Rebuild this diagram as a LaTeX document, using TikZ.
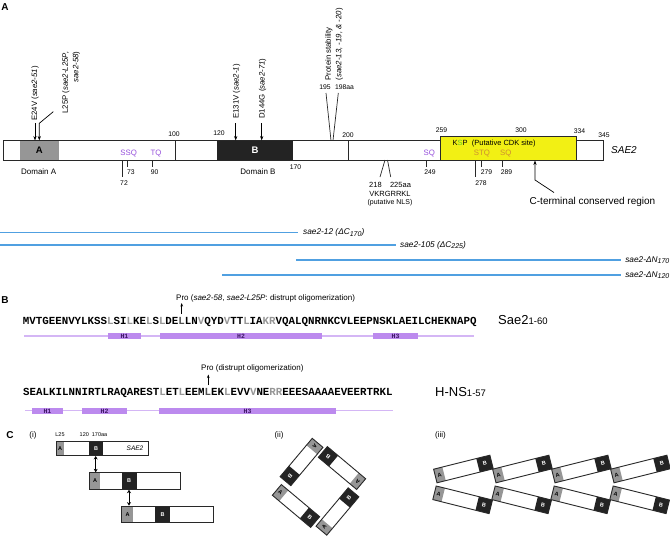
\documentclass[tikz,border=0pt]{standalone}
\usepackage{fontspec}
\setmainfont{Liberation Sans}
\newfontfamily\seqfont{Liberation Mono}
\usetikzlibrary{arrows.meta}
\definecolor{purp}{RGB}{150,80,220}
\definecolor{orng}{RGB}{205,140,50}
\definecolor{yel}{RGB}{242,240,20}
\definecolor{grn}{RGB}{95,205,40}
\definecolor{agray}{RGB}{150,150,150}
\definecolor{bblk}{RGB}{35,35,35}
\definecolor{outl}{RGB}{40,40,40}
\definecolor{bluel}{RGB}{80,160,225}
\definecolor{hline}{RGB}{212,182,245}
\definecolor{hbox}{RGB}{188,138,238}
\definecolor{htext}{RGB}{60,20,100}
\definecolor{seqg}{RGB}{150,150,150}
\definecolor{seqd}{RGB}{80,80,80}
\newcommand\gr[1]{{\color{seqg}#1}}
\newcommand\dk[1]{{\color{seqd}#1}}
\newcommand\lowsub[1]{\raisebox{-1.6pt}{\fontsize{7}{8}\selectfont #1}}
\tikzset{
  every node/.style={inner sep=0pt},
  sec/.style={font=\fontsize{10}{12}\selectfont\bfseries},
  num/.style={font=\fontsize{6.8}{8}\selectfont},
  lbl/.style={font=\fontsize{7.5}{9}\selectfont},
  rlbl/.style={rotate=90, font=\fontsize{7.8}{10.5}\selectfont},
  motif/.style={font=\fontsize{7.8}{9}\selectfont},
  tick/.style={draw=outl, line width=0.7pt},
  ltick/.style={draw=outl, line width=1.3pt},
  mut/.style={draw=black, line width=0.7pt, -{Stealth[length=4.5pt,width=3.2pt]}},
  proarr/.style={draw=black, line width=0.6pt, -{Stealth[length=3.5pt,width=2.6pt]}},
  dbl/.style={draw=black, line width=1pt, {Stealth[length=3.5pt,width=4pt]}-{Stealth[length=3.5pt,width=4pt]}},
  seq/.style={anchor=base west, font=\fontsize{10.8}{12}\selectfont\seqfont\bfseries},
  helixln/.style={draw=hline, line width=1.3pt},
  helix/.style={fill=hbox},
  htxt/.style={font=\fontsize{6.5}{6.5}\selectfont\seqfont\bfseries, text=htext},
  bluel/.style={draw=bluel, line width=1.6pt},
  mlbl/.style={font=\fontsize{8.3}{10}\selectfont\itshape},
  tiny/.style={font=\fontsize{5.5}{6}\selectfont\bfseries},
  small/.style={font=\fontsize{5.5}{6}\selectfont},
  bigl/.style={anchor=base west, font=\fontsize{13}{15}\selectfont},
  pics/sbar/.style={code={
     \fill[white] (0,-7) rectangle (#1,7);
     \fill[agray] (0,-7) rectangle (9,7);
     \fill[bblk] ({#1-14},-7) rectangle (#1,7);
     \draw[outl, line width=0.9pt] (0,-7) rectangle (#1,7);
     \node[tiny, transform shape] (-a) at (4.5,0) {A};
     \node[tiny, transform shape, text=white] (-b) at ({#1-7},0) {B};
  }},
}
\begin{document}
\begin{tikzpicture}[x=1pt,y=-1pt]
\useasboundingbox (0,0) rectangle (670,536);
\fill[white] (0,0) rectangle (670,536);
% ---------------- A ----------------
\node[sec] (secA) at (5,7) {A};
\fill[white] (3,140.5) rectangle (603,160);
\fill[agray] (19.5,141) rectangle (59,159.5);
\fill[bblk] (216.7,141) rectangle (293.3,159.5);
\draw[outl, line width=0.9pt] (3,140.5) rectangle (603,160);
\draw[outl, line width=0.9pt] (175,140.5) -- (175,160) (348.5,140.5) -- (348.5,160);
\draw[outl, line width=1pt, fill=yel] (440.7,136) rectangle (576.7,160);
\node[font=\fontsize{9.5}{10}\selectfont\bfseries] (dA) at (39.2,150.5) {A};
\node[font=\fontsize{9.5}{10}\selectfont\bfseries, text=white] (dB) at (255,150.5) {B};
\node[anchor=west, font=\fontsize{10}{12}\selectfont\itshape] (sae2) at (611,150) {SAE2};
% numbers above
\node[num] (n100) at (174,134) {100};
\node[num] (n120) at (219,133) {120};
\node[num] (n200) at (348,135.5) {200};
\node[num] (n259) at (441.5,130) {259};
\node[num] (n300) at (521,130) {300};
\node[num] (n334) at (579.5,131) {334};
\node[num] (n345) at (604,135.5) {345};
\node[num] (n170) at (295.5,167) {170};
% motifs
\node[motif, text=purp] (ssq) at (128.7,154) {SSQ};
\node[motif, text=purp] (tq) at (156,154) {TQ};
\node[motif, text=purp] (sq1) at (429.3,154) {SQ};
\node[motif, text=orng] (stq) at (482,154) {STQ};
\node[motif, text=orng] (sq2) at (505.8,154) {SQ};
\node[anchor=west, font=\fontsize{7.5}{9}\selectfont] (ksp) at (452.5,143.3) {K\textcolor{grn}{S}P\ \ (Putative CDK site)};
% ticks
\draw[tick] (127.7,160) -- (127.7,166.5);
\node[num] (n73) at (130.8,172) {73};
\draw[tick] (152.7,160) -- (152.7,166.5);
\node[num] (n90) at (154.7,172) {90};
\draw[ltick] (122.7,160) -- (122.7,177);
\node[num] (n72) at (124,183) {72};
\draw[tick] (426,160) -- (426,166.5);
\node[num] (n249) at (430,172.5) {249};
\draw[ltick] (475.7,160) -- (475.7,177);
\node[num] (n278) at (481,183) {278};
\draw[tick] (481.7,160) -- (481.7,166.5);
\node[num] (n279) at (486.5,172) {279};
\draw[tick] (502,160) -- (502,166.5);
\node[num] (n289) at (506.5,172) {289};
\node[font=\fontsize{8}{9}\selectfont] (domA) at (38.7,172) {Domain A};
\node[font=\fontsize{8}{9}\selectfont] (domB) at (258,172) {Domain B};
% NLS
\draw[tick] (385,160) -- (380,177);
\draw[tick] (387.5,160) -- (390.7,177);
\node[lbl] (n218) at (375.5,185) {218};
\node[lbl] (n225) at (400.5,185) {225aa};
\node[lbl] (vkr) at (390,194) {VKRGRRKL};
\node[font=\fontsize{7}{8}\selectfont] (nls) at (390,203) {(putative NLS)};
% C-terminal
\node[font=\fontsize{10}{12}\selectfont] (cterm) at (592.5,201.7) {C-terminal conserved region};
\coordinate (ctip) at (535,160.5);
\draw[mut] (554,192.5) -- (535,180) -- (ctip);
% mutations
\node[rlbl, anchor=west] (e24v) at (35,121) {E24V (\textit{sae2-51})};
\node[rlbl, anchor=east, align=right] (l25p) at (71,51.5) {L25P (\textit{sae2-L25P,}\\\textit{sae2-58})};
\node[rlbl, anchor=west] (e131v) at (236.5,119) {E131V (\textit{sae2-1})};
\node[rlbl, anchor=west] (d144g) at (262.5,119) {D144G (\textit{sae2-71})};
\node[rlbl, anchor=west, align=left] (stab) at (334,80.5) {Protein stability\\(\textit{sae2-13, -19, \& -20})};
\coordinate (pE24) at (35,140.5);
\coordinate (pL25) at (39.3,140.5);
\coordinate (pE131) at (235.7,140.5);
\coordinate (pD144) at (261.7,140.5);
\draw[mut] (35,123) -- (pE24);
\draw[mut] (53.3,111.7) -- (39.3,123.3) -- (pL25);
\draw[mut] (235.7,123) -- (pE131);
\draw[mut] (261.7,123) -- (pD144);
\node[num] (n195) at (325,87.3) {195};
\node[num] (n198) at (344.5,87.3) {198aa};
\draw[tick] (326,93) -- (331,140.5);
\draw[tick] (338.3,93) -- (333,140.5);
% truncations
\node[mlbl, anchor=west] (t1) at (303,232.3) {sae2-12 (ΔC\lowsub{170})};
\node[mlbl, anchor=west] (t2) at (400,245) {sae2-105 (ΔC\lowsub{225})};
\node[mlbl, anchor=east] (t3) at (669.5,260) {sae2-ΔN\lowsub{170}};
\node[mlbl, anchor=east] (t4) at (669.5,275) {sae2-ΔN\lowsub{120}};
\coordinate (s1) at (0,232.3);
\coordinate (s2) at (0,245);
\coordinate (s3) at (296,260);
\coordinate (s4) at (222,275);
\draw[bluel] (s1) -- ([xshift=-5pt]t1.west);
\draw[bluel] (s2) -- ([xshift=-4pt]t2.west);
\draw[bluel] (s3) -- ([xshift=-4pt]t3.west);
\draw[bluel] (s4) -- ([xshift=-4pt]t4.west);
% ---------------- B ----------------
\node[sec] (secB) at (5,300.5) {B};
\node[anchor=west, font=\fontsize{8}{9}\selectfont] (pro1) at (176,298) {Pro (\textit{sae2-58}, \textit{sae2-L25P}: distrupt oligomerization)};
\draw[proarr] (181.7,313.5) -- (181.7,303);
\node[seq] (seq1) at (22.7,324) {MVTGEENVYLKSS\gr{L}SI\gr{L}KE\gr{L}S\gr{L}DE\dk{L}LN\gr{V}QYD\gr{V}TT\gr{L}IA\gr{KR}VQALQNRNKCVLEEPNSKLAEILCHEKNAPQ};
\draw[helixln] (24,336) -- (474,336);
\fill[helix] (108,333) rectangle (141,339.3);
\node[htxt] (h11) at (124.5,336.2) {H1};
\fill[helix] (160,333) rectangle (322,339.3);
\node[htxt] (h12) at (241,336.2) {H2};
\fill[helix] (373,333) rectangle (418,339.3);
\node[htxt] (h13) at (395.5,336.2) {H3};
\node[bigl] (sae2lbl) at (498,324.7) {Sae2{\fontsize{9.5}{11}\selectfont 1-60}};

\node[anchor=west, font=\fontsize{8}{9}\selectfont] (pro2) at (201,368) {Pro (distrupt oligomerization)};
\draw[proarr] (208.3,385) -- (208.3,374.5);
\node[seq] (seq2) at (23,395.5) {SEALKILNNIRTLRAQAREST\gr{L}ET\gr{L}EEM\dk{L}EK\gr{L}EVV\gr{V}NE\gr{RR}EEESAAAAEVEERTRKL};
\draw[helixln] (25,410.7) -- (392.7,410.7);
\fill[helix] (32,407.7) rectangle (63,414);
\node[htxt] (h21) at (47.5,410.9) {H1};
\fill[helix] (82,407.7) rectangle (127,414);
\node[htxt] (h22) at (104.5,410.9) {H2};
\fill[helix] (159,407.7) rectangle (336,414);
\node[htxt] (h23) at (247.5,410.9) {H3};
\node[bigl] (hnslbl) at (435,396.7) {H-NS{\fontsize{9.5}{11}\selectfont 1-57}};
% ---------------- C ----------------
\node[sec] (secC) at (10,435) {C};
\node[font=\fontsize{8}{9}\selectfont] (ci) at (33,435) {(i)};
\node[small] (l25) at (60,434.5) {L25};
\node[small, anchor=west] (c120) at (79.5,434.5) {120\ \ 170aa};
% bar 1
\fill[white] (56,441) rectangle (148.5,455.5);
\fill[agray] (56.5,441) rectangle (63.5,455.5);
\fill[bblk] (89,441) rectangle (103,455.5);
\draw[outl, line width=0.9pt] (56,441) rectangle (148.5,455.5);
\node[tiny] (b1a) at (60,448.3) {A};
\node[tiny, text=white] (b1b) at (96,448.3) {B};
\node[font=\fontsize{6.5}{7}\selectfont\itshape] (b1s) at (135,448.3) {SAE2};
% bar 2
\fill[white] (89.3,472.7) rectangle (180,489.3);
\fill[agray] (89.8,472.7) rectangle (100,489.3);
\fill[bblk] (121.7,472.7) rectangle (136.7,489.3);
\draw[outl, line width=0.9pt] (89.3,472.7) rectangle (180,489.3);
\node[tiny] (b2a) at (95,481) {A};
\node[tiny, text=white] (b2b) at (129.2,481) {B};
% bar 3
\fill[white] (121.7,506) rectangle (213,522.7);
\fill[agray] (122.2,506) rectangle (132.7,522.7);
\fill[bblk] (155,506) rectangle (170,522.7);
\draw[outl, line width=0.9pt] (121.7,506) rectangle (213,522.7);
\node[tiny] (b3a) at (127.5,514.3) {A};
\node[tiny, text=white] (b3b) at (162.5,514.3) {B};
\draw[dbl] (95.7,456) -- (95.7,472.3);
\draw[dbl] (129,489.7) -- (129,505.6);
% (ii)
\node[font=\fontsize{8}{9}\selectfont] (cii) at (279,435) {(ii)};
\pic[rotate=230] (r1) at (317.6,442.85) {sbar=50};
\pic[rotate=140] (r2) at (361.15,484.1) {sbar=50};
\pic[rotate=50] (r4) at (321.4,530.65) {sbar=50};
\pic[rotate=-40] (r3) at (276.85,489.9) {sbar=50};
% (iii)
\node[font=\fontsize{8}{9}\selectfont] (ciii) at (440.5,435) {(iii)};
\foreach \k in {0,1,2,3}{
  \pic[rotate=14] (u\k) at ({435.3+59*\k},476) {sbar=58};
  \pic[rotate=-14] (d\k) at ({434.5+59*\k},492.8) {sbar=58};
}
\end{tikzpicture}
\end{document}
